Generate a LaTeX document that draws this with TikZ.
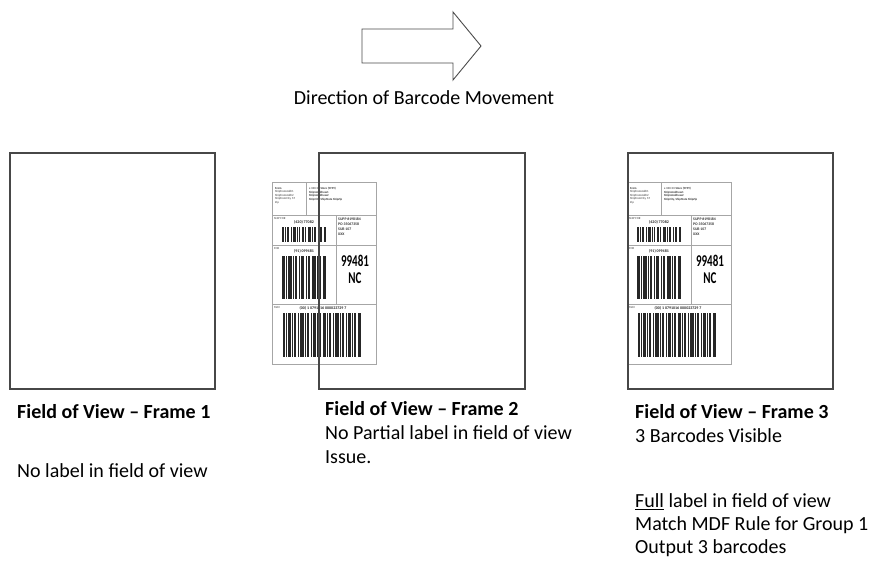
\documentclass[tikz,border=0pt]{standalone}
\usepackage{fontspec}
\setmainfont{Carlito}
\begin{document}
\begin{tikzpicture}[x=1pt,y=-1pt,
  frame/.style={draw=black!72,line width=1.4pt},
  lblline/.style={draw=black!35,line width=0.5pt},
  tinytxt/.style={inner sep=0pt,font=\fontsize{3}{3.6}\selectfont,align=left,text=black!80},
  bartxt/.style={inner sep=0pt,font=\fontsize{4}{4.5}\selectfont\bfseries,text=black!85},
  bigtxt/.style={inner sep=0pt,font=\fontsize{11}{12}\selectfont\bfseries},
  title/.style={inner sep=0pt,anchor=west,font=\fontsize{20}{24}\selectfont\bfseries},
  body/.style={inner sep=0pt,anchor=west,font=\fontsize{20}{24}\selectfont},
  shiplabel/.pic={
    \fill[white] (0,0) rectangle (104,182);
    \draw[lblline] (0,0) rectangle (104,182);
    \draw[lblline] (0,33) -- (104,33) (0,63) -- (104,63) (0,122) -- (104,122);
    \draw[lblline] (34,0) -- (34,33) (64,33) -- (64,122);
    % barcode A
    \foreach \a/\w in {0/2,3/1,5/2,9/1,11/3,15/1,17/1,20/2,23/1,26/3,30/1,32/2,36/1,38/2,42/2}
      \fill[black!85] (10+\a,45) rectangle ++(\w,15);
    % barcode B
    \foreach \a/\w in {0/3,4/1,6/4,11/1,13/2,17/1,19/3,24/1,26/2,30/4,35/1,37/2,41/3}
      \fill[black!85] (10+\a,74) rectangle ++(\w,43);
    % barcode C
    \foreach \a/\w in {0/2,3/1,5/3,9/1,11/2,15/1,17/4,22/1,24/2,28/1,30/3,34/1,36/2,40/3,44/1,46/2,50/1,52/4,57/1,59/2,63/1,65/3,69/1,71/2,75/3}
      \fill[black!85] (11+\a,131) rectangle ++(\w,44);
    \node[tinytxt,anchor=north west] (-from) at (3,5) {\textbf{From}\\ShipfromAddr1\\ShipfromAddr2\\ShipfromCity, ST\\Zip};
    \node[tinytxt,anchor=north west] (-to) at (37,5) {\textbullet\ XXX XX \textbf{Store (9999)}\\\textbf{ShiptoAddress1}\\\textbf{ShiptoAddress2}\\\textbf{ShipCity, ShipState ShipZip}};
    \node[tinytxt,anchor=north west] (-sf) at (2,35) {SHIP FOR};
    \node[bartxt] (-a) at (32,40) {(420) 77082};
    \node[tinytxt,anchor=north west,font=\fontsize{3.8}{5}\selectfont\bfseries] (-supp) at (66,36) {SUPP \#198184\\PO 35067358\\SUB 107\\XXX};
    \node[tinytxt,anchor=north west] (-fr) at (2,65) {FOR};
    \node[bartxt] (-b) at (32,69) {(91) 099481};
    \node[bigtxt] (-num) at (83,79) {\scalebox{1}[1.5]{99481}};
    \node[bigtxt] (-nc) at (83,96) {\scalebox{1}[1.5]{NC}};
    \node[tinytxt,anchor=north west] (-sscc) at (2,124) {SSCC};
    \node[bartxt] (-c) at (51,126) {(00) 1 0791016 000023729 7};
  }]
\useasboundingbox (0,0) rectangle (874,571);
\fill[white] (0,0) rectangle (874,571);
% arrow
\draw[black!70,line width=0.9pt,line join=miter] (362,29) coordinate (arrL) -- (453,29) -- (453,12) -- (481,46) coordinate (arrT) -- (453,80) -- (453,63) -- (362,63) -- cycle;
\node[inner sep=0pt,font=\fontsize{20}{24}\selectfont] (dir) at (424,98) {Direction of Barcode Movement};
% frames and labels
\draw[frame] (10,153) rectangle (215,389);
\node[inner sep=0pt] (f1) at (112.5,271) {};
\pic (L2) at (272,182) {shiplabel};
\draw[frame] (319,153) rectangle (525,389);
\pic (L3) at (627,182) {shiplabel};
\draw[frame] (628,153) rectangle (833,389);
% texts
\node[title] (t1) at (17,412) {Field of View – Frame 1};
\node[body] (n1) at (17,471) {No label in field of view};
\node[title] (t2) at (325,409) {Field of View – Frame 2};
\node[body] (n2a) at (325,433) {No Partial label in field of view};
\node[body] (n2b) at (325,457) {Issue.};
\node[title] (t3) at (635,412) {Field of View – Frame 3};
\node[body] (n3a) at (635,436) {3 Barcodes Visible};
\node[body] (n3b) at (635,502) {\underline{Full} label in field of view};
\node[body] (n3c) at (635,525) {Match MDF Rule for Group 1};
\node[body] (n3d) at (635,548) {Output 3 barcodes};
\end{tikzpicture}
\end{document}
